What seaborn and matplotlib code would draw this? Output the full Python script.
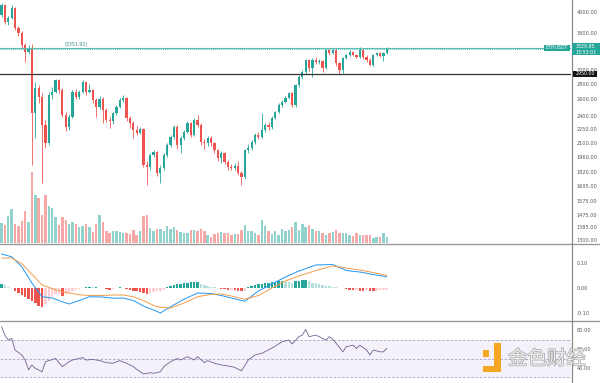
import numpy as np
import pandas as pd
import matplotlib.pyplot as plt
import seaborn as sns
import matplotlib.patheffects as pe
from matplotlib.patches import Rectangle
from matplotlib.lines import Line2D
from matplotlib.ticker import FixedLocator, FormatStrFormatter, NullLocator

sns.set_theme(style="white")
plt.rcParams['font.family'] = ['DejaVu Sans', 'Noto Sans CJK SC']

W, H = 600, 383
UP, DOWN = '#26a69a', '#ef5350'

# --- datos (ETHUSDT) ---
symbol = "ETHUSDT"
first_open = 3941
closes = [4140, 3808, 3884, 4080, 3697, 3607, 3401, 3285, 3351, 2433,
          2750, 2631, 2292, 2098, 2657, 2697, 2862, 2724, 2409, 2270,
          2386, 2697, 2631, 2697, 2834, 2697, 2724, 2593, 2506, 2605,
          2469, 2350, 2339, 2433, 2506, 2593, 2618, 2374, 2316, 2237,
          2204, 2248, 1883, 1865, 1978, 2007, 1810, 1856, 1978, 2077,
          2161, 2270, 2077, 2150, 2215, 2316, 2182, 2350, 2292, 2108,
          2098, 2150, 2098, 2027, 1949, 1997, 1910, 1865, 1856, 1874,
          1810, 1775, 2027, 2047, 2108, 2182, 2161, 2237, 2292, 2270,
          2374, 2445, 2530, 2567, 2618, 2684, 2530, 2791, 2904, 2977,
          3158, 3036, 3158, 3127, 3142, 3036, 3318, 3269, 3318, 3112,
          3006, 3190, 3237, 3285, 3237, 3205, 3318, 3205, 3158, 3081,
          3237, 3269, 3221, 3269, 3330]
highs = [4180, 4160, 3930, 4150, 4100, 3740, 3640, 3430, 3400, 3420,
         2830, 2790, 2680, 2350, 2700, 2760, 2880, 2870, 2750, 2440,
         2420, 2720, 2740, 2730, 2860, 2850, 2800, 2740, 2620, 2640,
         2630, 2490, 2380, 2450, 2530, 2620, 2660, 2630, 2400, 2340,
         2280, 2270, 2260, 1920, 2000, 2030, 2020, 1880, 1995, 2100,
         2180, 2290, 2290, 2170, 2240, 2340, 2330, 2370, 2409, 2310,
         2140, 2170, 2170, 2110, 2040, 2020, 2010, 1930, 1890, 1900,
         1920, 1830, 2040, 2090, 2130, 2200, 2210, 2433, 2310, 2330,
         2400, 2460, 2550, 2590, 2640, 2700, 2700, 2810, 2930, 3000,
         3180, 3170, 3190, 3200, 3180, 3160, 3340, 3330, 3340, 3330,
         3130, 3210, 3260, 3310, 3300, 3260, 3368, 3330, 3230, 3190,
         3250, 3290, 3280, 3290, 3368]
lows = [3900, 3780, 3760, 3860, 3660, 3560, 3330, 3127, 3250, 1883,
        2150, 2560, 1723, 2050, 2080, 2610, 2680, 2690, 2380, 2230,
        2240, 2370, 2600, 2610, 2680, 2660, 2680, 2560, 2380, 2480,
        2316, 2330, 2259, 2300, 2410, 2490, 2570, 2340, 2260, 2150,
        2180, 2190, 1860, 1706, 1840, 1960, 1780, 1723, 1840, 1960,
        2060, 2140, 2040, 2000, 2130, 2200, 2160, 2170, 2270, 2080,
        2040, 2070, 2070, 2000, 1920, 1900, 1890, 1840, 1840, 1840,
        1790, 1706, 1760, 2000, 2030, 2090, 2140, 2150, 2220, 2240,
        2250, 2360, 2430, 2510, 2550, 2600, 2500, 2510, 2770, 2880,
        2950, 2990, 2900, 3100, 3090, 2977, 3020, 3240, 3250, 3060,
        2950, 2960, 3170, 3220, 3220, 3190, 3190, 3180, 3120, 3060,
        3070, 3220, 3200, 3150, 3250]
volumes = [20, 18, 27, 34, 19, 17, 22, 32, 21, 71,
           48, 45, 28, 48, 37, 35, 26, 18, 26, 23,
           19, 21, 19, 16, 17, 19, 16, 11, 19, 28,
           21, 12, 10, 12, 12, 11, 10, 10, 9, 13,
           8, 12, 27, 28, 15, 12, 14, 14, 12, 17,
           14, 16, 13, 11, 10, 10, 13, 13, 12, 14,
           12, 8, 6, 9, 10, 11, 10, 10, 8, 9,
           9, 13, 18, 12, 12, 10, 8, 23, 17, 12,
           9, 12, 8, 14, 12, 13, 16, 21, 13, 19,
           16, 18, 14, 12, 12, 10, 8, 10, 11, 13,
           10, 10, 10, 8, 7, 10, 8, 8, 8, 8,
           5, 6, 6, 10, 6]

price_ticks = [4000, 3600, 3000, 2800, 2600, 2400, 2250, 2100, 1960,
               1820, 1695, 1575, 1475, 1385, 1300]
level_line = 3351.92
support_line = 2950.00
last_price = 3329.85
last_time = "13:53:01"

macd_idx = [0, 3, 6, 9, 12, 15, 18, 20, 23, 26, 30, 33, 36, 39, 42, 45, 47,
            50, 54, 58, 62, 65, 68, 72, 76, 80, 84, 88, 93, 98, 102, 106, 110, 114]
macd_line = [0.136, 0.125, 0.085, 0.020, -0.035, -0.040, -0.055, -0.064, -0.050,
             -0.035, -0.036, -0.041, -0.040, -0.050, -0.072, -0.088, -0.100,
             -0.075, -0.045, -0.020, -0.022, -0.030, -0.040, -0.053, -0.012,
             0.016, 0.044, 0.068, 0.092, 0.094, 0.070, 0.064, 0.054, 0.045]
signal_line = [0.120, 0.120, 0.097, 0.055, 0.012, -0.002, -0.015, -0.020, -0.027,
               -0.030, -0.030, -0.028, -0.028, -0.035, -0.050, -0.070, -0.077,
               -0.080, -0.060, -0.035, -0.025, -0.024, -0.032, -0.045, -0.030,
               0.000, 0.028, 0.048, 0.070, 0.088, 0.080, 0.072, 0.062, 0.050]
macd_hist = [0.016, 0.012, 0.005, 0.002, -0.010, -0.020, -0.027, -0.035, -0.043, -0.053,
             -0.061, -0.070, -0.075, -0.064, -0.051, -0.035, -0.024, -0.022, -0.033, -0.024,
             -0.018, -0.012, -0.008, -0.004, 0.002, 0.004, 0.005, 0.003, 0.005, 0.002,
             0.001, -0.004, -0.006, -0.003, 0.002, 0.004, 0.001, -0.003, -0.008, -0.010,
             -0.012, -0.016, -0.020, -0.025, -0.020, -0.016, -0.012, -0.010, -0.006, 0.004,
             0.010, 0.012, 0.015, 0.018, 0.020, 0.022, 0.024, 0.024, 0.026, 0.017,
             0.012, 0.009, 0.006, 0.004, 0.002, -0.003, -0.005, -0.007, -0.006, -0.008,
             -0.010, -0.013, -0.012, 0.004, 0.008, 0.012, 0.015, 0.018, 0.020, 0.022,
             0.024, 0.026, 0.028, 0.030, 0.026, 0.024, 0.022, 0.028, 0.030, 0.032,
             0.033, 0.027, 0.022, 0.019, 0.016, 0.013, 0.010, 0.008, 0.006, 0.004,
             0.002, 0.001, -0.005, -0.008, -0.009, -0.007, -0.010, -0.011, -0.009, -0.011,
             -0.012, -0.010, -0.008, -0.007, -0.006]

rsi_idx = [0, 1, 2, 3, 4, 6, 7, 8, 9, 10,
           12, 13, 16, 18, 20, 21, 24, 25, 27, 29,
           31, 33, 35, 37, 39, 40, 42, 44, 45, 47,
           48, 50, 52, 53, 55, 57, 58, 60, 61, 63,
           65, 67, 69, 71, 73, 75, 77, 79, 81, 83,
           85, 86, 88, 89, 90, 91, 93, 94, 96, 97,
           98, 99, 101, 102, 104, 105, 106, 108, 109, 110,
           112, 113, 114]
rsi_vals = [83.5, 74.7, 69.5, 71.2, 59.0, 53.7, 48.4, 38.0, 43.2, 39.7,
            36.0, 46.6, 50.0, 41.4, 46.6, 48.4, 51.0, 48.4, 49.0, 47.8,
            45.6, 45.0, 47.8, 45.0, 41.4, 38.6, 33.7, 35.0, 34.4, 36.0,
            41.4, 46.6, 50.0, 48.4, 52.0, 48.4, 52.0, 45.6, 47.8, 45.0,
            43.2, 42.1, 40.7, 37.0, 48.4, 53.7, 55.5, 59.0, 63.0, 67.7,
            69.5, 65.3, 73.0, 74.7, 80.7, 73.0, 74.7, 73.0, 69.5, 73.0,
            70.2, 66.0, 57.0, 62.4, 64.0, 60.6, 64.0, 59.0, 53.7, 59.0,
            57.0, 57.0, 60.7]

# --- preparación ---
opens = [first_open] + closes[:-1]   # apertura = cierre anterior
df = pd.DataFrame({'open': opens, 'high': highs, 'low': lows,
                   'close': closes, 'volume': volumes})
df['i'] = np.arange(len(df))
colors = np.where(df['close'] >= df['open'], UP, DOWN)

fig = plt.figure(figsize=(W / 100, H / 100), dpi=100)


def px_axes(top, bottom, right=571):
    return fig.add_axes([0, 1 - bottom / H, right / W, (bottom - top) / H])


ax = px_axes(0, 243)
ax_m = px_axes(244, 320)
ax_r = px_axes(321, 383)
X_LIM = (-0.45, 168.5)

# --- panel de precio ---
ax_v = ax.twinx()
ax_v.bar(df['i'], df['volume'], width=0.72, color=colors, alpha=0.5, lw=0)
ax_v.set_ylim(0, max(volumes) * 243 / 71)
ax_v.set_yticks([])
ax.set_zorder(2)
ax_v.set_zorder(1)
ax.patch.set_visible(False)

ax.vlines(df['i'], df['low'], df['high'], colors=colors, lw=0.6, zorder=3)
body_lo = df[['open', 'close']].min(axis=1)
body_h = (df['close'] - df['open']).abs()
ax.bar(df['i'], body_h, bottom=body_lo, width=0.66, color=colors, lw=0, zorder=4)
ax.set_yscale('log')
ax.set_ylim(1282, 4244)

ax.axhline(level_line, color='#5cbdb3', lw=0.8, zorder=5)
ax.axhline(last_price, color=UP, lw=0.6, ls=(0, (1, 1.5)), zorder=5)
ax.axhline(support_line, color='#333333', lw=0.9, zorder=5)
ax.text(18.7, level_line * 1.004, f"({level_line:.2f})", fontsize=3.4,
        color='#3f8f88', ha='left', va='bottom')

ax.yaxis.tick_right()
ax.yaxis.set_major_locator(FixedLocator(price_ticks))
ax.yaxis.set_minor_locator(NullLocator())
ax.yaxis.set_major_formatter(FormatStrFormatter('%.2f'))

# --- MACD ---
hist_colors = []
prev = 0
for h in macd_hist:
    if h >= 0:
        hist_colors.append('#26a69a' if h >= prev else '#b2dfdb')
    else:
        hist_colors.append('#ef5350' if h <= prev else '#ffcdd2')
    prev = h
ax_m.bar(np.arange(len(macd_hist)), macd_hist, width=0.72, color=hist_colors, lw=0)
sns.lineplot(x=macd_idx, y=macd_line, ax=ax_m, color='#2196f3', lw=0.7)
sns.lineplot(x=macd_idx, y=signal_line, ax=ax_m, color='#f39c4a', lw=0.7)
ax_m.set_ylim(-0.128, 0.176)
ax_m.yaxis.tick_right()
ax_m.set_yticks([0.10, 0.00, -0.10])
ax_m.yaxis.set_major_formatter(FormatStrFormatter('%.2f'))

# --- RSI ---
ax_r.axhspan(30, 70, color='#7e57c2', alpha=0.08, lw=0)
for lv in (70, 50, 30):
    ax_r.axhline(lv, color='#a79fc2', lw=0.6, ls=(0, (3, 2)))
sns.lineplot(x=rsi_idx, y=rsi_vals, ax=ax_r, color='#6f6391', lw=0.6)
ax_r.set_ylim(24.2, 89.5)
ax_r.yaxis.tick_right()
ax_r.set_yticks([80, 60, 40])
ax_r.yaxis.set_major_formatter(FormatStrFormatter('%.2f'))

for a in (ax, ax_m, ax_r):
    a.set_xlim(*X_LIM)
    a.set_xticks([])
    a.set_xlabel('')
    a.set_ylabel('')
    a.tick_params(axis='y', labelsize=3.6, length=0, pad=4.3, colors='#555555')
    for s in a.spines.values():
        s.set_visible(False)
for s in ax_v.spines.values():
    s.set_visible(False)

# separadores y eje vertical
for yy in (243.5, 320.5):
    fig.add_artist(Line2D([0, 1], [1 - yy / H] * 2, transform=fig.transFigure,
                          color='#9a9a9a', lw=1))
fig.add_artist(Line2D([571.5 / W] * 2, [0, 1], transform=fig.transFigure,
                      color='#8a8a8a', lw=0.9))

# --- etiquetas de precio a la derecha ---
fig.canvas.draw()


def price_px(p):
    return H - ax.transData.transform((0, p))[1]


def box(x0, y0, x1, y1, color):
    fig.add_artist(Rectangle((x0 / W, 1 - y1 / H), (x1 - x0) / W, (y1 - y0) / H,
                             transform=fig.transFigure, facecolor=color,
                             edgecolor='none', zorder=10))


y_lvl = price_px(level_line)
box(544, y_lvl - 3, 570, y_lvl + 3, '#26a69a')
fig.text(557 / W, 1 - y_lvl / H, symbol, fontsize=3.4, color='white',
         ha='center', va='center', zorder=11)
y_last = price_px(last_price)
box(572, y_last - 6, 600, y_last + 6, '#26a69a')
fig.text(586 / W, 1 - (y_last - 2.8) / H, f"{last_price:.2f}", fontsize=3.4,
         color='white', ha='center', va='center', zorder=11)
fig.text(586 / W, 1 - (y_last + 3.0) / H, last_time, fontsize=3.4,
         color='white', ha='center', va='center', zorder=11)
y_sup = price_px(support_line)
box(573, y_sup - 3, 597, y_sup + 3, '#111111')
fig.text(585 / W, 1 - y_sup / H, f"{support_line:.2f}", fontsize=3.4,
         color='white', ha='center', va='center', zorder=11)

# --- marca de agua ---
for (x0, y0, x1, y1) in [(483, 350, 489, 357), (494, 343, 501, 372), (483, 366, 501, 372)]:
    box(x0, y0, x1, y1, '#f5a623')
fig.text(508 / W, 1 - 359 / H, '金色财经', fontsize=14, color='#ececec',
         family=['Noto Sans CJK SC', 'DejaVu Sans'], ha='left', va='center', zorder=12,
         path_effects=[pe.withStroke(linewidth=1.0, foreground='#a9a9a9')])

fig.savefig('out.png', dpi=100)
